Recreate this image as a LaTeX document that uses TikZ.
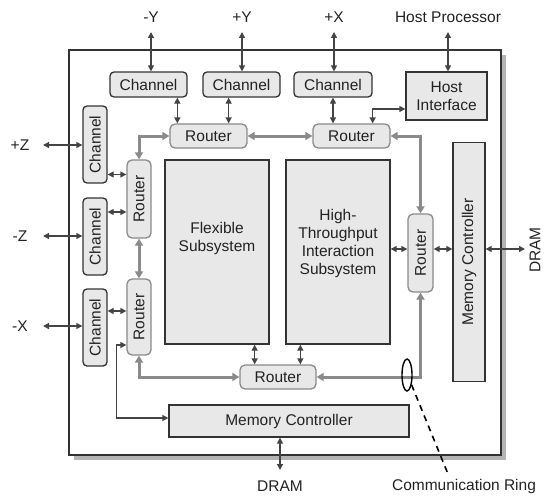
\documentclass[tikz,border=0pt]{standalone}
\usepackage{graphicx}
\usepackage{fontspec}
\setmainfont{Liberation Sans}
\usetikzlibrary{arrows.meta,shapes.geometric,calc}
\definecolor{boxfill}{HTML}{E8E8E8}
\definecolor{edgec}{HTML}{333333}
\definecolor{ringc}{HTML}{8A8A8A}
\definecolor{arrc}{HTML}{444444}
\definecolor{shadowc}{HTML}{B4B4B4}
\definecolor{txtc}{HTML}{222222}
\newcommand{\dfont}{\fontsize{15.5pt}{18pt}\selectfont}
\tikzset{
  box/.style={draw=edgec, fill=boxfill, line width=1.3pt, inner sep=0pt, font=\dfont, text=txtc, align=center},
  chan/.style={box, rounded corners=4pt},
  router/.style={box, draw=ringc, rounded corners=5pt},
  link/.style={draw=arrc, line width=1.3pt, {Triangle[length=6pt,width=6pt]}-{Triangle[length=6pt,width=6pt]}},
  ringlink/.style={draw=ringc, line width=3pt, {Triangle[length=7pt,width=8pt]}-{Triangle[length=7pt,width=8pt]}},
  lbl/.style={font=\dfont, text=txtc, inner sep=1pt}
}
\begin{document}
\begin{tikzpicture}[x=1pt,y=-1pt]
\useasboundingbox (0,0) rectangle (545,495);
% chip with shadow
\fill[shadowc] (74,55) rectangle (506,460);
\node[draw=edgec, fill=white, line width=1.4pt, minimum width=432pt, minimum height=405pt, inner sep=0pt] (chip) at (285,252.5) {};

% top channels and host interface
\node[chan, minimum width=77pt, minimum height=25pt] (ch1) at (148.5,84.5) {Channel};
\node[chan, minimum width=77pt, minimum height=25pt] (ch2) at (241.5,84.5) {Channel};
\node[chan, minimum width=78pt, minimum height=25pt] (ch3) at (333,84.5) {Channel};
\node[box, minimum width=81pt, minimum height=48pt] (host) at (446.5,96) {Host\\Interface};

% top routers
\node[router, minimum width=77pt, minimum height=24pt] (rTL) at (208.5,136) {Router};
\node[router, minimum width=77pt, minimum height=24pt] (rTR) at (351.5,136) {Router};

% left channels
\node[chan, minimum width=24pt, minimum height=77pt] (chZp) at (95,144.5) {\rotatebox{90}{Channel}};
\node[chan, minimum width=24pt, minimum height=77pt] (chZm) at (95,236.5) {\rotatebox{90}{Channel}};
\node[chan, minimum width=24pt, minimum height=77pt] (chXm) at (95,327.5) {\rotatebox{90}{Channel}};

% left routers
\node[router, minimum width=24pt, minimum height=78pt] (rL1) at (139,199) {\rotatebox{90}{Router}};
\node[router, minimum width=24pt, minimum height=76pt] (rL2) at (139,317) {\rotatebox{90}{Router}};

% subsystems
\node[box, minimum width=104pt, minimum height=184pt] (flex) at (217,252) {};
\node[lbl, align=center] (flexT) at (217,238) {Flexible\\Subsystem};
\node[box, minimum width=104pt, minimum height=184pt] (hti) at (338,252) {};
\node[lbl, align=center] (htiT) at (338,243) {High-\\Throughput\\Interaction\\Subsystem};

% right router and memory controller
\node[router, minimum width=25pt, minimum height=78pt] (rR) at (420.5,253) {\rotatebox{90}{Router}};
\node[box, minimum width=32pt, minimum height=239pt] (mcR) at (469,262) {\rotatebox{90}{Memory Controller}};

% bottom router and memory controller
\node[router, minimum width=76pt, minimum height=24pt] (rB) at (278,377) {Router};
\node[box, minimum width=240pt, minimum height=32pt] (mcB) at (289,421) {Memory Controller};

% outside labels
\node[lbl] (lmY) at (151,17) {-Y};
\node[lbl] (lpY) at (242,17) {+Y};
\node[lbl] (lpX) at (334,17) {+X};
\node[lbl] (lHP) at (448,17) {Host Processor};
\node[lbl] (lpZ) at (20,145) {+Z};
\node[lbl] (lmZ) at (20,236) {-Z};
\node[lbl] (lmX) at (20,326) {-X};
\node[lbl, inner sep=0pt] (dramR) at (535,250) {\rotatebox{90}{DRAM}};
\node[lbl] (dramB) at (280,486) {DRAM};
\node[lbl] (comm) at (464,486) {Communication Ring};

\coordinate (amY) at (151,32);
\coordinate (apY) at (242,32);
\coordinate (apX) at (334,32);
\coordinate (aHP) at (448,32);
\coordinate (apZ) at (43,145);
\coordinate (amZ) at (43,236);
\coordinate (amX) at (43,326);
\coordinate (aDR) at (525,249);
\coordinate (aDB) at (280,470);
\coordinate (aCR) at (448,474);

% external links
\draw[link] (amY) -- (amY |- ch1.north);
\draw[link] (apY) -- (apY |- ch2.north);
\draw[link] (apX) -- (apX |- ch3.north);
\draw[link] (aHP) -- (aHP |- host.north);
\draw[link] (apZ) -- (apZ -| chZp.west);
\draw[link] (amZ) -- (amZ -| chZm.west);
\draw[link] (amX) -- (amX -| chXm.west);
\draw[link] ([yshift=13pt]mcR.east) -- (aDR);
\draw[link] ([xshift=-9pt]mcB.south) -- (aDB);

% internal dark links
\draw[link] ([xshift=8pt]rTL.north west |- ch1.south) -- ([xshift=8pt]rTL.north west);
\draw[link] ([xshift=-19pt]rTL.north east |- ch2.south) -- ([xshift=-19pt]rTL.north east);
\draw[link] (ch3.south) -- (ch3.south |- rTR.north);
\draw[link] ([xshift=-18pt]rTR.north east) |- ([yshift=-13pt]host.west);
\draw[link] ([yshift=-30pt]chZp.east) -- ([yshift=-30pt]chZp.east -| rL1.west);
\draw[link] ([yshift=24.5pt]chZm.east) -- ([yshift=24.5pt]chZm.east -| rL1.west);
\draw[link] ([yshift=16.5pt]chXm.east) -- ([yshift=16.5pt]chXm.east -| rL2.west);
\draw[link] ([yshift=-28pt]rL2.west) -- ++(-10,0) |- ([yshift=3pt]mcB.west);
\draw[link] ([yshift=3pt]hti.east) -- ([yshift=3pt]hti.east -| rR.west);
\draw[link] ([yshift=4pt]rR.east) -- ([yshift=4pt]rR.east -| mcR.west);
\draw[link] ([xshift=-15pt]flex.south east) -- ([xshift=-15pt]flex.south east |- rB.north);
\draw[link] ([xshift=15pt]hti.south west) -- ([xshift=15pt]hti.south west |- rB.north);

% communication ring
\draw[ringlink] (rL1.north) |- (rTL.west);
\draw[ringlink] (rTL.east) -- (rTR.west);
\draw[ringlink] (rTR.east) -| (rR.north);
\draw[ringlink] (rR.south) |- (rB.east);
\draw[ringlink] (rB.west) -| (rL2.south);
\draw[ringlink] (rL1.south) -- (rL2.north);

% ring marker
\node[ellipse, draw=black, line width=1.4pt, minimum width=10pt, minimum height=32pt, inner sep=0pt] (ringmark) at (407,375) {};
\draw[black, line width=1.6pt, dash pattern=on 6pt off 5pt] (ringmark.-65) -- (aCR);
\end{tikzpicture}
\end{document}
